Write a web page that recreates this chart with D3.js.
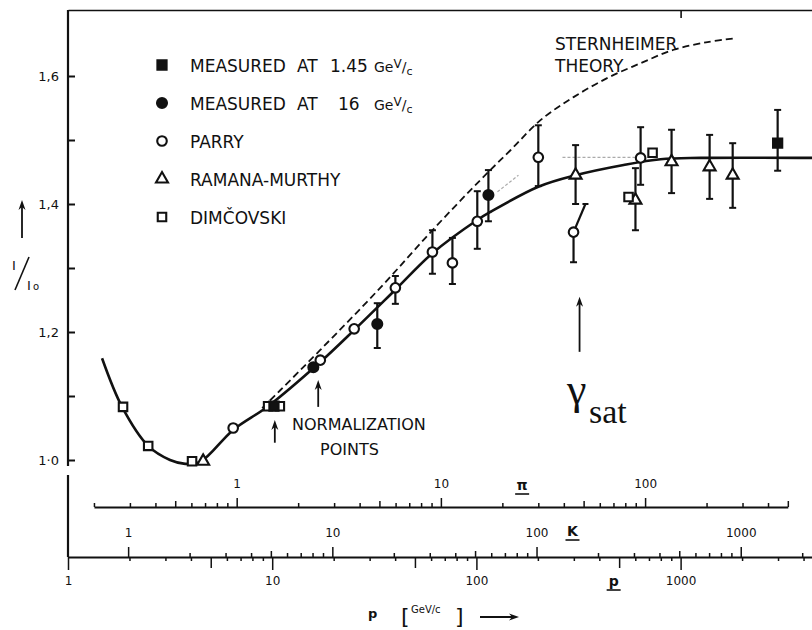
<!DOCTYPE html>
<html>
<head>
<meta charset="utf-8">
<script src="https://cdn.jsdelivr.net/npm/d3@7/dist/d3.min.js"></script>
<style>
  body { margin: 0; background: #fff; }
  svg { display: block; font-family: "DejaVu Sans", sans-serif; }
  .axis path, .axis line { stroke: #111; }
  .axis text { font-size: 12px; fill: #111; font-family: "DejaVu Sans", sans-serif; }
  .legendText, .note { font-size: 17px; fill: #111; }
</style>
</head>
<body>
<script>
// *************************************************** //
// data: [p (GeV/c), I/I0, error low, error high]
var measured145 = [[10.2, 1.084, null, null], [2987, 1.495, 1.452, 1.547]];
var measured16 = [[15.9, 1.145, null, null], [32.7, 1.2125, 1.175, 1.245], [114.5, 1.414, 1.373, 1.453]];
var parry = [[6.44, 1.05, null, null], [17.2, 1.156, null, null], [25.2, 1.205, null, null],
             [40.1, 1.269, 1.244, 1.2875], [60.9, 1.325, 1.291, 1.359], [76.3, 1.308, 1.275, 1.347],
             [101, 1.373, 1.33, 1.42], [201, 1.473, 1.428, 1.523], [299, 1.356, 1.309, null],
             [637, 1.472, 1.43, 1.52]];
// the slanted upper bar on one Parry point: [p, I/I0, p at top, I/I0 at top]
var parrySlant = [[299, 1.356, 342, 1.40]];
var ramana = [[4.59, 0.998, null, null], [306, 1.445, 1.40, 1.492], [601, 1.406, 1.359, 1.456],
              [903, 1.466, 1.417, 1.516], [1387, 1.458, 1.408, 1.508], [1799, 1.445, 1.394, 1.495]];
var dimcovski = [[1.86, 1.083, null, null], [2.47, 1.022, null, null], [4.05, 0.998, null, null],
                 [9.55, 1.084, null, null], [10.9, 1.084, null, null], [556, 1.411, null, null],
                 [729, 1.48, null, null]];

// fitted curve through the data (solid) and Sternheimer theory (dashed)
var fitCurve = [[1.468, 1.159], [1.84, 1.083], [2.47, 1.022], [3.16, 1.0], [3.75, 0.994], [4.44, 0.997],
                [6.44, 1.047], [9.55, 1.084], [17.2, 1.153], [25.2, 1.203], [40.1, 1.266], [60.9, 1.323],
                [101, 1.375], [117, 1.3875], [201, 1.427], [306, 1.445], [526, 1.461], [798, 1.470],
                [1253, 1.472], [4436, 1.472]];
var sternheimer = [[8.93, 1.081], [10.95, 1.109], [17.2, 1.172], [33.8, 1.269], [60.9, 1.359],
                   [104.6, 1.4375], [146.8, 1.484], [206, 1.531], [299, 1.567], [439, 1.597],
                   [637, 1.620], [925, 1.641], [1356, 1.653], [1860, 1.659]];
// faint grey saturation guide
var guideA = [[126.8, 1.419], [160.7, 1.445]];
var guideB = [[264, 1.473], [615, 1.473]];

// arrows: [p, I/I0 at tail, I/I0 at head]
var normArrows = [[10.3, 1.027, 1.0625], [16.8, 1.083, 1.125]];
var gammaArrow = [[320, 1.169, 1.255]];

// axis tick labels
var yTickValues = [1.0, 1.1, 1.2, 1.3, 1.4, 1.5, 1.6];
var yTickLabels = ["1·0", "", "1,2", "", "1,4", "", "1,6"];
var legendLabels = ["MEASURED", "MEASURED", "PARRY", "RAMANA-MURTHY", "DIMČOVSKI"];
var legendMomenta = ["1.45", "16", "", "", ""];

// momentum conversion of the pi and K scales onto the p scale
var piToP = 6.7,
    kToP = 1.97;

(function(){
  var width = 812,
      height = 630,
      plotTop = 10,
      piAxisY = 507,
      kpAxisY = 557;

  var svg = d3.select("body")
    .append("svg")
    .attr("width", width)
    .attr("height", height);

  // scales
  var x = d3.scaleLog().domain([1, 4400]).range([68, 812]);
  var y = d3.scaleLinear().domain([1.0, 1.6]).range([460, 76]);
  var xPi = d3.scaleLog().domain([0.2, 500]).range([x(0.2 * piToP), x(500 * piToP)]);
  var xK = d3.scaleLog().domain([1, 2000]).range([x(kToP), x(2000 * kToP)]);

  setAxes(svg, x, y, xPi, xK, plotTop, piAxisY, kpAxisY);
  setCurves(svg, x, y);
  setPoints(svg, x, y);
  setLegend(svg);
  setNotes(svg, x, y);

  // *************************************************** //
  function logTicks(lo, hi){
    var t = [];
    for (var e = -1; e < 4; e++){
      for (var m = 1; m < 10; m++){
        var v = +(m * Math.pow(10, e)).toPrecision(3);
        if (v >= lo - 1e-9 && v <= hi + 1e-9) t.push(v);
      }
    }
    return t;
  }

  function mantissa(v){
    return Math.round(v / Math.pow(10, Math.floor(Math.log10(v) + 1e-9)));
  }

  function decadeLabel(d){
    return (mantissa(d) === 1 && d >= 1) ? String(d) : "";
  }

  // *************************************************** //
  function setAxes(svg, x, y, xPi, xK, plotTop, piAxisY, kpAxisY){
    // y axis, ticks pointing into the plot
    var yAxis = svg.append("g")
      .attr("class", "axis")
      .attr("transform", "translate(68,0)")
      .call(d3.axisLeft(y)
        .tickValues(yTickValues)
        .tickSizeInner(-7)
        .tickSizeOuter(0)
        .tickPadding(9)
        .tickFormat(function(d, i){ return yTickLabels[i]; }));
    yAxis.select(".domain").remove();
    yAxis.selectAll("line").attr("stroke-width", 2);
    yAxis.selectAll("text").style("font-size", "13px");

    // left frame line, broken just below 1.0
    svg.append("line")
      .attr("x1", 68).attr("x2", 68)
      .attr("y1", plotTop).attr("y2", y(1.0) + 6)
      .attr("stroke", "#111").attr("stroke-width", 2.2);
    svg.append("line")
      .attr("x1", 68).attr("x2", 68)
      .attr("y1", y(1.0) + 15).attr("y2", kpAxisY)
      .attr("stroke", "#111").attr("stroke-width", 2.2);

    // top frame line with one tick
    svg.append("g")
      .attr("class", "axis")
      .attr("transform", "translate(0," + plotTop + ")")
      .call(d3.axisBottom(x).tickValues([1000]).tickSize(8).tickSizeOuter(0).tickFormat(""))
      .selectAll("path, line").attr("stroke-width", 1.6);

    // pi scale
    var piAxis = svg.append("g")
      .attr("class", "axis")
      .attr("transform", "translate(0," + piAxisY + ")")
      .call(d3.axisTop(xPi)
        .tickValues(logTicks(0.2, 500))
        .tickSize(8)
        .tickSizeOuter(0)
        .tickPadding(11)
        .tickFormat(decadeLabel));
    piAxis.select(".domain").attr("stroke-width", 1.8);
    piAxis.selectAll(".tick line")
      .attr("stroke-width", 1.5)
      .attr("y2", function(d){ var m = mantissa(d); return m === 1 ? -9 : (m === 5 ? -6 : -4); });

    // p scale (ticks down) and K scale (ticks up) share one line
    var pAxis = svg.append("g")
      .attr("class", "axis")
      .attr("transform", "translate(0," + kpAxisY + ")")
      .call(d3.axisBottom(x)
        .tickValues(logTicks(1, 4000))
        .tickSize(12)
        .tickSizeOuter(0)
        .tickPadding(7)
        .tickFormat(decadeLabel));
    pAxis.select(".domain").attr("stroke-width", 2);
    pAxis.selectAll(".tick line")
      .attr("stroke-width", 1.5)
      .attr("y2", function(d){ var m = mantissa(d); return m === 1 ? 13 : (m === 5 ? 11 : 4); });

    var kAxis = svg.append("g")
      .attr("class", "axis")
      .attr("transform", "translate(0," + kpAxisY + ")")
      .call(d3.axisTop(xK)
        .tickValues(logTicks(1, 2000))
        .tickSize(9)
        .tickSizeOuter(0)
        .tickPadding(11)
        .tickFormat(decadeLabel));
    kAxis.select(".domain").remove();
    kAxis.selectAll(".tick line")
      .attr("stroke-width", 1.5)
      .attr("y2", function(d){ var m = mantissa(d); return m === 1 ? -10 : (m === 5 ? -6 : -4); });

    // underlined scale names
    var names = [{t: "π", x: xPi(25), y: piAxisY - 17},
                 {t: "K", x: xK(150), y: kpAxisY - 21},
                 {t: "p", x: x(470), y: kpAxisY + 29}];
    names.forEach(function(n){
      svg.append("text")
        .attr("x", n.x).attr("y", n.y)
        .attr("text-anchor", "middle")
        .style("font-size", "14px")
        .style("font-weight", "bold")
        .attr("fill", "#111")
        .text(n.t);
      svg.append("line")
        .attr("x1", n.x - 7).attr("x2", n.x + 7)
        .attr("y1", n.y + 4).attr("y2", n.y + 4)
        .attr("stroke", "#111").attr("stroke-width", 1.6);
    });

    // x axis title
    var title = svg.append("g").attr("fill", "#111");
    title.append("text").attr("x", 368).attr("y", 618).style("font-size", "13px").style("font-weight", "bold").text("p");
    title.append("text").attr("x", 401).attr("y", 624).style("font-size", "22px").text("[");
    title.append("text").attr("x", 411).attr("y", 613).style("font-size", "10px").text("GeV/c");
    title.append("text").attr("x", 455).attr("y", 624).style("font-size", "22px").text("]");
    drawArrow(svg, [480, 617], [519, 617]);

    // y axis title
    var ylab = svg.append("g").attr("fill", "#111");
    ylab.append("text").attr("x", 12).attr("y", 270).style("font-size", "13px").text("I");
    ylab.append("line").attr("x1", 15).attr("y1", 290).attr("x2", 29).attr("y2", 257)
      .attr("stroke", "#111").attr("stroke-width", 1.6);
    ylab.append("text").attr("x", 27).attr("y", 290).style("font-size", "13px").text("I");
    ylab.append("text").attr("x", 33).attr("y", 290).style("font-size", "10px").text("o");
    drawArrow(svg, [22, 238], [22, 200]);
  }

  // *************************************************** //
  function drawArrow(svg, from, to){
    var dx = to[0] - from[0], dy = to[1] - from[1],
        len = Math.sqrt(dx * dx + dy * dy),
        ux = dx / len, uy = dy / len;
    svg.append("line")
      .attr("x1", from[0]).attr("y1", from[1])
      .attr("x2", to[0] - ux * 6).attr("y2", to[1] - uy * 6)
      .attr("stroke", "#111").attr("stroke-width", 1.8);
    var bx = to[0] - ux * 10, by = to[1] - uy * 10;
    svg.append("path")
      .attr("d", "M" + to[0] + "," + to[1] +
        "L" + (bx - uy * 3.5) + "," + (by + ux * 3.5) +
        "L" + (to[0] - ux * 7) + "," + (to[1] - uy * 7) +
        "L" + (bx + uy * 3.5) + "," + (by - ux * 3.5) + "Z")
      .attr("fill", "#111");
  }

  // *************************************************** //
  function setCurves(svg, x, y){
    var line = d3.line()
      .x(function(d){ return x(d[0]); })
      .y(function(d){ return y(d[1]); })
      .curve(d3.curveCatmullRom.alpha(0.5));

    svg.append("path")
      .datum(sternheimer)
      .attr("d", line)
      .attr("fill", "none")
      .attr("stroke", "#111")
      .attr("stroke-width", 1.8)
      .attr("stroke-dasharray", "7,4");

    [guideA, guideB].forEach(function(g){
      svg.append("path")
        .datum(g)
        .attr("d", d3.line().x(function(d){ return x(d[0]); }).y(function(d){ return y(d[1]); }))
        .attr("fill", "none")
        .attr("stroke", "#aaa")
        .attr("stroke-width", 1.2)
        .attr("stroke-dasharray", "3,2");
    });

    svg.append("path")
      .datum(fitCurve)
      .attr("d", line)
      .attr("fill", "none")
      .attr("stroke", "#111")
      .attr("stroke-width", 2.6);
  }

  // *************************************************** //
  function setPoints(svg, x, y){
    var series = [
      {data: parry, type: d3.symbolCircle, size: 72, filled: false},
      {data: ramana, type: d3.symbolTriangle, size: 62, filled: false},
      {data: dimcovski, type: d3.symbolSquare, size: 72, filled: false},
      {data: measured16, type: d3.symbolCircle, size: 78, filled: true},
      {data: measured145, type: d3.symbolSquare, size: 84, filled: true}
    ];

    // error bars first
    series.forEach(function(s){
      s.data.forEach(function(d){
        var cx = x(d[0]);
        [d[2], d[3]].forEach(function(e){
          if (e === null) return;
          svg.append("line")
            .attr("x1", cx).attr("x2", cx)
            .attr("y1", y(d[1])).attr("y2", y(e))
            .attr("stroke", "#111").attr("stroke-width", 2.2);
          svg.append("line")
            .attr("x1", cx - 3.5).attr("x2", cx + 3.5)
            .attr("y1", y(e)).attr("y2", y(e))
            .attr("stroke", "#111").attr("stroke-width", 2);
        });
      });
    });

    parrySlant.forEach(function(d){
      svg.append("line")
        .attr("x1", x(d[0])).attr("y1", y(d[1]))
        .attr("x2", x(d[2])).attr("y2", y(d[3]))
        .attr("stroke", "#111").attr("stroke-width", 2.2);
      svg.append("line")
        .attr("x1", x(d[2]) - 3).attr("x2", x(d[2]) + 3)
        .attr("y1", y(d[3])).attr("y2", y(d[3]))
        .attr("stroke", "#111").attr("stroke-width", 2);
    });

    series.forEach(function(s){
      svg.selectAll(null)
        .data(s.data)
        .enter()
        .append("path")
        .attr("transform", function(d){ return "translate(" + x(d[0]) + "," + y(d[1]) + ")"; })
        .attr("d", d3.symbol().type(s.type).size(s.size))
        .attr("fill", s.filled ? "#111" : "#fff")
        .attr("stroke", "#111")
        .attr("stroke-width", 2.1);
    });
  }

  // *************************************************** //
  function setLegend(svg){
    var types = [d3.symbolSquare, d3.symbolCircle, d3.symbolCircle, d3.symbolTriangle, d3.symbolSquare],
        filled = [true, true, false, false, false],
        sizes = [84, 78, 72, 62, 72];

    legendLabels.forEach(function(label, i){
      var rowY = 65 + i * 38;
      svg.append("path")
        .attr("transform", "translate(162," + rowY + ")")
        .attr("d", d3.symbol().type(types[i]).size(sizes[i]))
        .attr("fill", filled[i] ? "#111" : "#fff")
        .attr("stroke", "#111")
        .attr("stroke-width", 2.1);

      var t = svg.append("text")
        .attr("class", "legendText")
        .attr("x", 190)
        .attr("y", rowY + 7)
        .text(label);
      if (legendMomenta[i]){
        t.append("tspan").attr("x", 297).text("AT");
        t.append("tspan").attr("x", legendMomenta[i].length > 2 ? 330 : 338).text(legendMomenta[i]);
        t.append("tspan").attr("x", 374).style("font-size", "14px").text("Ge");
        t.append("tspan").attr("dy", -4).style("font-size", "12px").text("V");
        t.append("tspan").attr("dy", 4).style("font-size", "14px").text("/");
        t.append("tspan").attr("dy", 3).style("font-size", "11px").text("c");
      }
    });
  }

  // *************************************************** //
  function setNotes(svg, x, y){
    svg.append("text").attr("class", "note").attr("x", 555).attr("y", 50).text("STERNHEIMER");
    svg.append("text").attr("class", "note").attr("x", 555).attr("y", 72).text("THEORY");
    svg.append("text").attr("class", "note").style("font-size", "16px").attr("x", 292).attr("y", 430).text("NORMALIZATION");
    svg.append("text").attr("class", "note").style("font-size", "16px").attr("x", 320).attr("y", 455).text("POINTS");

    normArrows.concat(gammaArrow).forEach(function(a){
      drawArrow(svg, [x(a[0]), y(a[1])], [x(a[0]), y(a[2])]);
    });

    var g = svg.append("text")
      .attr("x", 567)
      .attr("y", 404)
      .attr("fill", "#111")
      .style("font-family", "'Liberation Serif', 'DejaVu Serif', serif");
    g.append("tspan").style("font-size", "44px").text("γ");
    g.append("tspan").attr("x", 589).attr("y", 423).style("font-size", "34px").text("sat");
  }
})();
</script>
</body>
</html>
